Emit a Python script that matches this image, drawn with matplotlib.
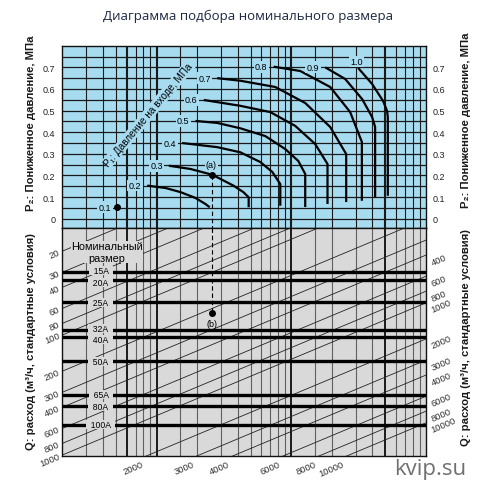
import numpy as np
import matplotlib
matplotlib.use('Agg')
import matplotlib.pyplot as plt

plt.rcParams['font.family'] = ['Liberation Sans', 'DejaVu Sans']

BLUE = '#a7dbf0'
GRAY = '#d9d9d9'

# shared log axis (flow factor) - vertical grid
x_grid = [3, 4, 5, 6, 7, 8, 9, 10, 15, 20, 30, 40, 50, 60, 70, 80, 90,
          100, 150, 200, 300, 400, 500, 600, 700, 800, 900]
x_grid_bold = [6, 10, 100, 500]

# upper panel: P2 (MPa)
p2_grid = [0.0, 0.05, 0.1, 0.15, 0.2, 0.25, 0.3, 0.35, 0.4, 0.45, 0.5,
           0.55, 0.6, 0.65, 0.7, 0.75]
p2_ticks = [0, 0.1, 0.2, 0.3, 0.4, 0.5, 0.6, 0.7]
p2_ticklabels = ['0', '0.1', '0.2', '0.3', '0.4', '0.5', '0.6', '0.7']

# P1 curves
p1_01_x = [5.12]
p1_01_y = [0.053]
p1_02_x = [8.53, 11.66, 15.06, 19.45, 23.07, 24.82]
p1_02_y = [0.153, 0.142, 0.123, 0.096, 0.068, 0.053]
p1_03_x = [12.34, 17.86, 25.99, 37.19, 44.10, 48.29, 48.29]
p1_03_y = [0.245, 0.230, 0.203, 0.153, 0.123, 0.099, 0.053]
p1_04_x = [15.50, 28.16, 41.90, 58.94, 72.34, 82.89, 82.89]
p1_04_y = [0.350, 0.331, 0.307, 0.262, 0.216, 0.160, 0.060]
p1_05_x = [19.45, 28.16, 41.90, 64.19, 90.28, 112.7, 126.9, 126.9]
p1_05_y = [0.452, 0.443, 0.418, 0.382, 0.322, 0.267, 0.207, 0.054]
p1_06_x = [22.41, 41.90, 69.90, 107.1, 150.6, 185.7, 185.7]
p1_06_y = [0.549, 0.522, 0.493, 0.429, 0.345, 0.253, 0.068]
p1_07_x = [28.16, 41.90, 76.12, 126.9, 194.5, 255.5, 255.5]
p1_07_y = [0.650, 0.638, 0.609, 0.535, 0.424, 0.299, 0.077]
p1_08_x = [73.95, 116.6, 194.5, 273.5, 334.0, 334.0]
p1_08_y = [0.703, 0.683, 0.609, 0.493, 0.355, 0.083]
p1_09_x = [178.6, 251.2, 335.7, 398.1, 419.0, 419.0]
p1_09_y = [0.700, 0.646, 0.553, 0.470, 0.424, 0.100]
p1_10_x = [313.5, 398.1, 480.3, 514.1, 520.3, 520.3]
p1_10_y = [0.697, 0.623, 0.544, 0.498, 0.470, 0.106]
p1_names = ['0.1', '0.2', '0.3', '0.4', '0.5', '0.6', '0.7', '0.8', '0.9', '1.0']

point_a = (26.0, 0.203)

# lower panel: flow Q (m3/h) guide lines and nominal sizes
q_lines = [20, 30, 40, 60, 80, 100, 200, 300, 400, 600, 800, 1000,
           2000, 3000, 4000, 6000, 8000, 10000]
q_left = [20, 30, 40, 60, 80, 100, 200, 300, 400, 600, 800, 1000]
q_right = [400, 600, 800, 1000, 2000, 3000, 4000, 6000, 8000, 10000]
q_bottom = [2000, 3000, 4000, 6000, 8000, 10000]
q_slope = 0.47

sizes = ['15A', '20A', '25A', '32A', '40A', '50A', '65A', '80A', '100A']
size_coef = [29.9, 34.8, 53.1, 90.8, 103.9, 164.8, 316, 390.8, 562]

point_b = (26.0, 66)

X0, X1 = 2, 1000
Y2_TOP, Y2_BOT = 12.7, 1025

fig = plt.figure(figsize=(5.03, 4.89), dpi=100)
ax1 = fig.add_axes([0.1239, 0.5327, 0.7231, 0.3718])
ax2 = fig.add_axes([0.1239, 0.0648, 0.7231, 0.4679])

for ax, col in ((ax1, BLUE), (ax2, GRAY)):
    ax.set_facecolor(col)
    ax.set_xscale('log')
    ax.set_xlim(X0, X1)
    ax.set_xticks([])
    ax.xaxis.set_minor_locator(matplotlib.ticker.NullLocator())
    for s in ax.spines.values():
        s.set_linewidth(1.0)
        s.set_color('#111111')

# ---- upper panel
ax1.set_ylim(-0.0407, 0.800)
ax1.set_yticks(p2_ticks)
ax1.set_yticklabels(p2_ticklabels)
ax1.tick_params(axis='y', length=0, labelsize=6.5, pad=5,
                labelleft=True, labelright=True, colors='#222222')
for x in x_grid:
    ax1.axvline(x, color='#1a1a1a', lw=1.5 if x in x_grid_bold else 0.8, zorder=1)
for y in p2_grid:
    ax1.axhline(y, color='#1a1a1a', lw=0.9, zorder=1)

curves = [(p1_01_x, p1_01_y), (p1_02_x, p1_02_y), (p1_03_x, p1_03_y),
          (p1_04_x, p1_04_y), (p1_05_x, p1_05_y), (p1_06_x, p1_06_y),
          (p1_07_x, p1_07_y), (p1_08_x, p1_08_y), (p1_09_x, p1_09_y),
          (p1_10_x, p1_10_y)]
lab_box = dict(boxstyle='square,pad=0.15', fc=BLUE, ec='none')
for name, (cx, cy) in zip(p1_names, curves):
    if len(cx) == 1:
        ax1.plot(cx, cy, 'o', color='black', ms=4, zorder=4)
    else:
        ax1.plot(cx, cy, color='black', lw=1.6, zorder=4, solid_capstyle='butt')
    if name == '1.0':
        ax1.annotate(name, xy=(cx[0], cy[0]), xytext=(-2, 2), textcoords='offset pixels',
                     ha='center', va='bottom', fontsize=6.5, bbox=lab_box, zorder=5)
    else:
        ax1.annotate(name, xy=(cx[0], cy[0]), xytext=(-6, 0), textcoords='offset pixels',
                     ha='right', va='center', fontsize=6.5, bbox=lab_box, zorder=5)

ax1.text(8.73, 0.484, 'P\u2081: Давление на входе, МПа', rotation=50, ha='center',
         va='center', fontsize=7.2, bbox=dict(boxstyle='square,pad=0.1', fc=BLUE, ec='none'),
         zorder=5)

ax1.plot([point_a[0], point_a[0]], [point_a[1], -0.0407], color='black', lw=0.8,
         dashes=(4, 2.5), zorder=3)
ax1.plot(*point_a, 'o', color='black', ms=4, zorder=6)
ax1.annotate('(a)', xy=point_a, xytext=(-1, 6), textcoords='offset pixels', ha='center',
             va='bottom', fontsize=6.5, bbox=lab_box, zorder=5)

# ---- lower panel
ax2.set_yscale('log')
ax2.set_ylim(Y2_BOT, Y2_TOP)
ax2.set_yticks([])
ax2.yaxis.set_minor_locator(matplotlib.ticker.NullLocator())
for x in x_grid:
    if x in x_grid_bold:
        ax2.axvline(x, color='#1a1a1a', lw=1.4, zorder=1)
    else:
        ax2.axvline(x, color='#606060', lw=0.8, zorder=1)

xs = np.array([X0, X1], dtype=float)
for q in q_lines:
    ax2.plot(xs, q * (xs / X0) ** (-q_slope), color='#222222', lw=0.6, zorder=2)

rot = 23
for q in q_left:
    ax2.annotate(str(q), xy=(X0, q), xytext=(-3, 0), textcoords='offset pixels',
                 ha='right', va='center', rotation=rot, rotation_mode='anchor',
                 fontsize=6.8, color='#333333', annotation_clip=False)
for q in q_right:
    ax2.annotate(str(q), xy=(X1, q * (X1 / X0) ** (-q_slope)), xytext=(4, -3),
                 textcoords='offset pixels', ha='left', va='top', rotation=rot,
                 rotation_mode='anchor', fontsize=6.8, color='#333333',
                 annotation_clip=False)
for q in q_bottom:
    xb = X0 * (q / Y2_BOT) ** (1 / q_slope)
    ax2.annotate(str(q), xy=(xb, Y2_BOT), xytext=(-4, -3), textcoords='offset pixels',
                 ha='right', va='top', rotation=rot, rotation_mode='anchor',
                 fontsize=6.8, color='#333333', annotation_clip=False)

# nudge the tightly stacked size labels apart a little
size_nudge = [2, -2, 0, 2, -2, 0, 0, 0, 0]
size_box = dict(boxstyle='square,pad=0.0', fc=GRAY, ec='none')
for name, c, dy in zip(sizes, size_coef, size_nudge):
    ax2.axhline(c, color='black', lw=2.4, zorder=3)
    ax2.annotate('  ' + name + '  ', xy=(3.85, c), xytext=(0, dy), textcoords='offset pixels',
                 ha='center', va='center', fontsize=6.2, bbox=size_box, zorder=5)

ax2.text(4.3, 20.3, 'Номинальный\nразмер', ha='center', va='center', fontsize=7.8,
         linespacing=1.2, bbox=dict(boxstyle='square,pad=0.05', fc=GRAY, ec='none'),
         zorder=5)

ax2.plot([point_b[0], point_b[0]], [Y2_TOP, point_b[1]], color='black', lw=0.8,
         dashes=(4, 2.5), zorder=3)
ax2.plot(*point_b, 'o', color='black', ms=4, zorder=6)
ax2.annotate('(b)', xy=point_b, xytext=(0, -6), textcoords='offset pixels', ha='center',
             va='top', fontsize=6.5, zorder=5)

# axis titles
lab_kw = dict(rotation=90, ha='center', va='center', fontsize=8.1, fontweight='bold',
              color='#1a1a1a')
fig.text(0.0616, 0.748, 'P\u2082: Пониженное давление, МПа', **lab_kw)
fig.text(0.926, 0.755, 'P\u2082: Пониженное давление, МПа', **lab_kw)
fig.text(0.0616, 0.302, 'Q: расход (м³/ч, стандартные условия)', **lab_kw)
fig.text(0.926, 0.31, 'Q: расход (м³/ч, стандартные условия)', **lab_kw)

fig.text(0.493, 0.967, 'Диаграмма подбора номинального размера', ha='center',
         va='center', fontsize=9.5, family=['Open Sans', 'DejaVu Sans'], color='#1c2840')
fig.text(0.855, 0.04, 'kvip.su', ha='center', va='center', fontsize=16,
         family=['Open Sans', 'DejaVu Sans'], color='#707070')

fig.savefig('out.png', dpi=100)
